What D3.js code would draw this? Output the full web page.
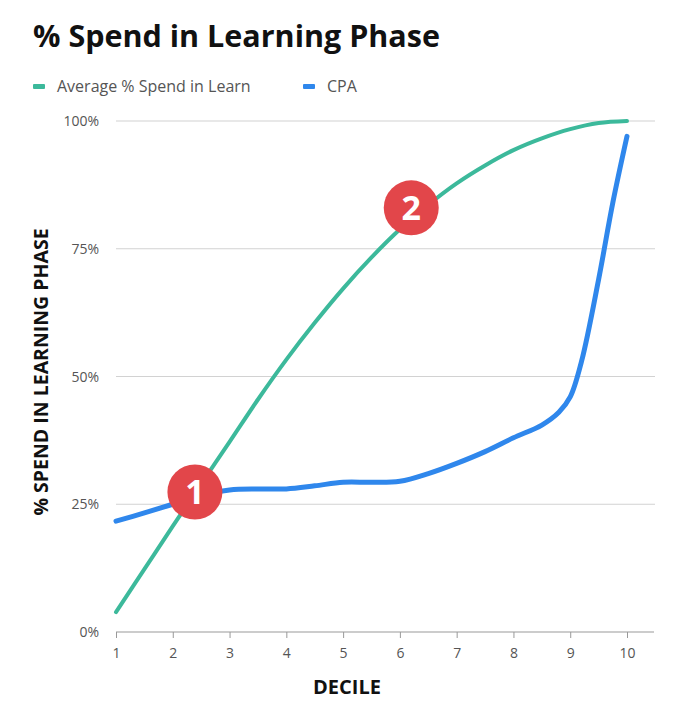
<!DOCTYPE html>
<html>
<head>
<meta charset="utf-8">
<script src="https://cdn.jsdelivr.net/npm/d3@7"></script>
<style>
  body { margin: 0; background: #fff; font-family: "Open Sans", sans-serif; }
</style>
</head>
<body>
<div id="chart"></div>
<script>
// datos
const learnDecile = [1, 1.5, 2, 2.5, 3, 3.5, 4, 4.5, 5, 5.5, 6, 6.5, 7, 7.5, 8, 8.5, 9, 9.5, 10]
const learnSpend = [3.9, 12.3, 20.7, 29, 37.2, 45.5, 53.3, 60.5, 67.2, 73.3, 78.8, 83.6, 87.8, 91.3, 94.3, 96.6, 98.4, 99.6, 100]
const cpaDecile = [1, 1.5, 2, 2.5, 3, 3.5, 4, 4.5, 5, 5.5, 6, 6.5, 7, 7.5, 8, 8.5, 8.8, 9, 9.2, 9.5, 9.75, 10]
const cpaValue = [21.7, 23.3, 25, 26.8, 27.8, 28, 28, 28.6, 29.3, 29.3, 29.5, 31, 33, 35.3, 38, 40.5, 43, 46, 53, 69, 84, 97]
const xTicks = [1, 2, 3, 4, 5, 6, 7, 8, 9, 10]
const yTicks = [0, 25, 50, 75, 100]
const seriesNames = ["Average % Spend in Learn", "CPA"]
const badges = [{ n: "1", x: 2.39, y: 27.4 }, { n: "2", x: 6.2, y: 83 }]

const ancho = 682, alto = 710
const verde = "#3cb99b", azul = "#2f87ec"

const svg = d3.select("#chart").append("svg")
  .attr("width", ancho)
  .attr("height", alto)

const x = d3.scaleLinear().domain([1, 10]).range([116, 627])
const y = d3.scaleLinear().domain([0, 100]).range([632, 121])

// titulo
svg.append("text")
  .attr("x", 33).attr("y", 47)
  .attr("font-size", 30.5).attr("font-weight", 700).attr("fill", "#111")
  .text("% Spend in Learning Phase")

// leyenda
const leg = svg.append("g")
  ;[[33, verde], [303, azul]].forEach((d, i) => {
    leg.append("rect").attr("x", d[0]).attr("y", 84).attr("width", 12).attr("height", 5)
      .attr("rx", 1).attr("fill", d[1])
    leg.append("text").attr("x", d[0] + 24).attr("y", 92)
      .attr("font-size", 16).attr("fill", "#555").text(seriesNames[i])
  })

// grid
svg.append("g").selectAll("line")
  .data(yTicks.filter(d => d > 0))
  .enter().append("line")
  .attr("x1", 116).attr("x2", 655)
  .attr("y1", d => y(d)).attr("y2", d => y(d))
  .attr("stroke", "#d2d2d2").attr("stroke-width", 1.2)

// eje y etiquetas
svg.append("g").selectAll("text")
  .data(yTicks)
  .enter().append("text")
  .attr("x", 99).attr("y", d => y(d) + 5)
  .attr("text-anchor", "end")
  .attr("font-size", 14).attr("fill", "#555")
  .text(d => d + "%")

// eje x
const ejeX = svg.append("g")
  .attr("transform", "translate(0," + y(0) + ")")
  .call(d3.axisBottom(x).tickValues(xTicks).tickSize(6).tickPadding(10).tickSizeOuter(0))
ejeX.select(".domain").attr("stroke", "#999").attr("stroke-width", 1.2)
  .attr("d", "M116,0H654")
ejeX.selectAll(".tick line").attr("stroke", "#999")
ejeX.selectAll(".tick text").attr("font-size", 14).attr("fill", "#555")
  .attr("font-family", "Open Sans, sans-serif")

// titulos de ejes
svg.append("text")
  .attr("transform", "translate(48," + 372 + ") rotate(-90)")
  .attr("text-anchor", "middle")
  .attr("font-size", 19.5).attr("font-weight", 700).attr("fill", "#111")
  .text("% SPEND IN LEARNING PHASE")
svg.append("text")
  .attr("x", 347).attr("y", 694)
  .attr("text-anchor", "middle")
  .attr("font-size", 20).attr("font-weight", 700).attr("fill", "#111")
  .text("DECILE")

const linea = d3.line()
  .x(d => x(d[0]))
  .y(d => y(d[1]))
  .curve(d3.curveCatmullRom)

svg.append("path")
  .datum(learnDecile.map((d, i) => [d, learnSpend[i]]))
  .attr("d", linea)
  .attr("fill", "none").attr("stroke", verde).attr("stroke-width", 4)
  .attr("stroke-linecap", "round")

svg.append("path")
  .datum(cpaDecile.map((d, i) => [d, cpaValue[i]]))
  .attr("d", linea)
  .attr("fill", "none").attr("stroke", azul).attr("stroke-width", 5)
  .attr("stroke-linecap", "round")

// marcadores numerados
const b = svg.append("g").selectAll("g")
  .data(badges)
  .enter().append("g")
  .attr("transform", d => "translate(" + x(d.x) + "," + y(d.y) + ")")
b.append("circle").attr("r", 27.5).attr("fill", "#e2464a")
b.append("text").attr("y", 12)
  .attr("text-anchor", "middle")
  .attr("font-size", 34).attr("font-weight", 700).attr("fill", "#fff")
  .text(d => d.n)
</script>
</body>
</html>
